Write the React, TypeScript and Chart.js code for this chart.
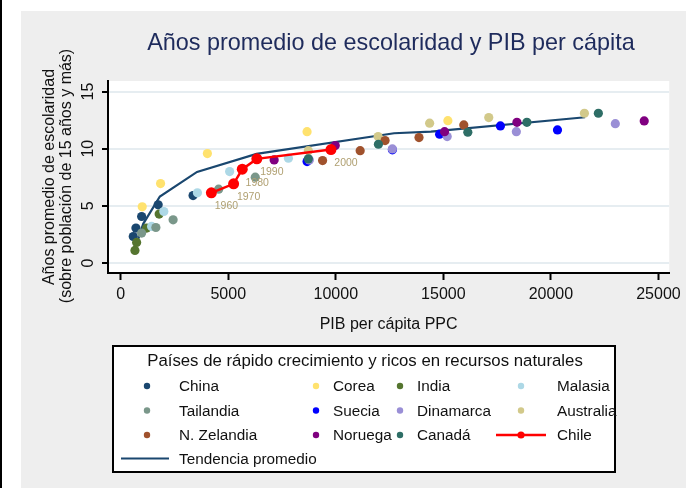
import React, { useEffect, useRef } from 'react';
import { Chart, registerables } from 'chart.js';

Chart.register(...registerables);

const FONT = "'Liberation Sans', Arial, Helvetica, sans-serif";

// Countries (legend order)
const countryNames = ['China', 'Corea', 'India', 'Malasia', 'Tailandia', 'Suecia', 'Dinamarca', 'Australia', 'N. Zelandia', 'Noruega', 'Canadá'];
const countryColors = ['#1a476f', '#ffe26e', '#55752f', '#add8e6', '#7a978a', '#0000ff', '#9a8fd6', '#d2c98a', '#a0522d', '#800080', '#2e6e66'];

const chinaX = [584, 709, 973, 1742, 3364];
const chinaY = [2.32, 3.06, 4.07, 5.09, 5.9];
const coreaX = [1001, 1853, 4031, 8664, 15210];
const coreaY = [4.92, 6.95, 9.57, 11.49, 12.45];
const indiaX = [663, 741, 1205, 1788];
const indiaY = [1.1, 1.8, 3.06, 4.28];
const malasiaX = [1436, 2006, 3567, 5064, 7797];
const malasiaY = [3.2, 4.51, 6.14, 8.0, 9.17];
const tailandiaX = [973, 1635, 2437, 4554, 6255];
const tailandiaY = [2.62, 3.11, 3.78, 6.46, 7.51];
const sueciaX = [8664, 12630, 14826, 17652, 20306];
const sueciaY = [8.87, 9.9, 11.27, 11.99, 11.64];
const dinamarcaX = [8770, 12630, 15178, 18393, 22994];
const dinamarcaY = [9.02, 9.98, 11.06, 11.49, 12.19];
const australiaX = [8724, 11967, 14362, 17110, 21557];
const australiaY = [9.83, 11.06, 12.23, 12.72, 13.1];
const nzelandiaX = [9386, 11133, 12291, 13867, 15951];
const nzelandiaY = [8.96, 9.83, 10.71, 10.97, 12.08];
const noruegaX = [7135, 9975, 15057, 18421, 24337];
const noruegaY = [9.02, 10.27, 11.49, 12.31, 12.43];
const canadaX = [8724, 11981, 16137, 18884, 22206];
const canadaY = [9.11, 10.39, 11.44, 12.31, 13.1];

const countryXs = [chinaX, coreaX, indiaX, malasiaX, tailandiaX, sueciaX, dinamarcaX, australiaX, nzelandiaX, noruegaX, canadaX];
const countryYs = [chinaY, coreaY, indiaY, malasiaY, tailandiaY, sueciaY, dinamarcaY, australiaY, nzelandiaY, noruegaY, canadaY];

const chileX = [4216, 5249, 5652, 6329, 9776];
const chileY = [6.14, 6.93, 8.21, 9.11, 9.92];
const chileYears = ['1960', '1970', '1980', '1990', '2000'];

const trendX = [695, 1047, 1821, 3549, 6315, 12708, 14423, 21590];
const trendY = [1.42, 3.43, 5.82, 7.97, 9.55, 11.35, 11.49, 12.75];

const xTicks = [0, 5000, 10000, 15000, 20000, 25000];
const yTicks = [0, 5, 10, 15];

const titleText = 'Años promedio de escolaridad y PIB per cápita';
const xTitle = 'PIB per cápita PPC';
const yTitle1 = 'Años promedio de escolaridad';
const yTitle2 = '(sobre población de 15 años y más)';
const legendTitle = 'Países de rápido crecimiento y ricos en recursos naturales';
const chileLabel = 'Chile';
const trendLabel = 'Tendencia promedio';

const decorPlugin = {
  id: 'decor',
  beforeDraw(chart: any) {
    const { ctx, chartArea: a } = chart;
    ctx.save();
    ctx.fillStyle = '#ffffff';
    ctx.fillRect(0, 0, 686, 488);
    ctx.fillStyle = '#000000';
    ctx.fillRect(0, 0, 2, 488);
    ctx.fillStyle = '#eeeeee';
    ctx.fillRect(21, 11, 665, 477);
    ctx.fillStyle = '#ffffff';
    ctx.fillRect(a.left, a.top, a.right - a.left, a.bottom - a.top);
    ctx.restore();
  },
  afterDraw(chart: any) {
    const { ctx, chartArea: a } = chart;
    const ys = chart.scales.y;
    ctx.save();
    // Title
    ctx.fillStyle = '#1e2b5c';
    ctx.font = `23.4px ${FONT}`;
    ctx.textAlign = 'center';
    ctx.textBaseline = 'middle';
    ctx.fillText(titleText, 391, 44);

    // X title
    ctx.fillStyle = '#111';
    ctx.font = `16px ${FONT}`;
    ctx.fillText(xTitle, (a.left + a.right) / 2, 325);

    // Y title (rotated)
    ctx.save();
    ctx.translate(50, 177);
    ctx.rotate(-Math.PI / 2);
    ctx.fillText(yTitle1, 0, 0);
    ctx.restore();
    ctx.save();
    ctx.translate(66.5, 176);
    ctx.rotate(-Math.PI / 2);
    ctx.fillText(yTitle2, 0, 0);
    ctx.restore();

    // Y tick labels (rotated)
    ys.ticks.forEach((t: any) => {
      const py = ys.getPixelForValue(t.value);
      ctx.save();
      ctx.translate(89, py);
      ctx.rotate(-Math.PI / 2);
      ctx.fillText(String(t.value), 0, 0);
      ctx.restore();
    });

    // Chile year labels
    const chileIdx = chart.data.datasets.findIndex((d: any) => d.label === chileLabel);
    const meta = chart.getDatasetMeta(chileIdx);
    ctx.fillStyle = '#b0a072';
    ctx.font = `10.5px ${FONT}`;
    meta.data.forEach((pt: any, i: number) => {
      ctx.fillText(chileYears[i], pt.x + 15, pt.y + 13.5);
    });

    // Legend box
    ctx.fillStyle = '#ffffff';
    ctx.fillRect(113, 346, 502, 126);
    ctx.strokeStyle = '#000';
    ctx.lineWidth = 2;
    ctx.strokeRect(113, 346, 502, 126);
    ctx.fillStyle = '#111';
    ctx.font = `16.8px ${FONT}`;
    ctx.textAlign = 'center';
    ctx.fillText(legendTitle, 365, 361);

    const markerX = [147, 316, 400, 521];
    const labelX = [179, 333, 417, 557];
    const rowY = [386, 410.5, 435, 458.5];
    ctx.font = `15.3px ${FONT}`;
    ctx.textAlign = 'left';
    const items: { label: string; color: string; kind: string }[] = countryNames.map((n, i) => ({ label: n, color: countryColors[i], kind: 'dot' }));
    items.push({ label: chileLabel, color: '#ff0000', kind: 'chile' });
    items.forEach((it, k) => {
      const r = Math.floor(k / 4);
      const c = k % 4;
      const y = rowY[r];
      if (it.kind === 'dot') {
        ctx.fillStyle = it.color;
        ctx.beginPath();
        ctx.arc(markerX[c], y, 3.2, 0, Math.PI * 2);
        ctx.fill();
      } else {
        ctx.strokeStyle = it.color;
        ctx.lineWidth = 2.5;
        ctx.beginPath();
        ctx.moveTo(496, y);
        ctx.lineTo(546, y);
        ctx.stroke();
        ctx.fillStyle = it.color;
        ctx.beginPath();
        ctx.arc(521, y, 3.6, 0, Math.PI * 2);
        ctx.fill();
      }
      ctx.fillStyle = '#111';
      ctx.fillText(it.label, labelX[c], y + 1);
    });
    ctx.strokeStyle = '#1a476f';
    ctx.lineWidth = 2.2;
    ctx.beginPath();
    ctx.moveTo(121, rowY[3]);
    ctx.lineTo(169, rowY[3]);
    ctx.stroke();
    ctx.fillStyle = '#111';
    ctx.fillText(trendLabel, 179, rowY[3] + 1);
    ctx.restore();
  },
};

export default function App() {
  const ref = useRef<HTMLCanvasElement | null>(null);
  useEffect(() => {
    if (!ref.current) return;
    const datasets: any[] = [];
    countryNames.forEach((name, i) => {
      datasets.push({
        label: name,
        data: countryXs[i].map((x, j) => ({ x, y: countryYs[i][j] })),
        backgroundColor: countryColors[i],
        borderColor: countryColors[i],
        pointRadius: 4.6,
        pointBorderWidth: 0,
        showLine: false,
        order: 100 - i,
      });
    });
    datasets.push({
      label: chileLabel,
      data: chileX.map((x, j) => ({ x, y: chileY[j] })),
      backgroundColor: '#ff0000',
      borderColor: '#ff0000',
      borderWidth: 2.5,
      pointRadius: 5.5,
      pointBorderWidth: 0,
      showLine: true,
      order: 0,
    });
    datasets.push({
      label: trendLabel,
      data: trendX.map((x, j) => ({ x, y: trendY[j] })),
      borderColor: '#1a476f',
      backgroundColor: '#1a476f',
      borderWidth: 2.2,
      pointRadius: 0,
      showLine: true,
      order: 200,
    });

    const chart = new Chart(ref.current, {
      type: 'scatter',
      data: { datasets },
      plugins: [decorPlugin],
      options: {
        animation: false,
        responsive: false,
        devicePixelRatio: 1,
        layout: { padding: { top: 81, right: 15, left: 0, bottom: 175 } },
        plugins: { legend: { display: false }, tooltip: { enabled: false }, title: { display: false } },
        scales: {
          x: {
            type: 'linear',
            min: -590,
            max: 25500,
            afterBuildTicks: (s: any) => {
              s.ticks = xTicks.map((v) => ({ value: v }));
            },
            afterFit: (s: any) => {
              s.height = 40;
            },
            grid: { drawOnChartArea: false, drawTicks: true, tickLength: 7, tickWidth: 2, tickColor: '#000' },
            border: { display: true, color: '#000', width: 2 },
            ticks: { color: '#111', font: { family: FONT, size: 16 }, padding: 5, maxRotation: 0, callback: (v: any) => String(v) },
          },
          y: {
            type: 'linear',
            min: -0.87,
            max: 15.92,
            afterBuildTicks: (s: any) => {
              s.ticks = yTicks.map((v) => ({ value: v }));
            },
            afterFit: (s: any) => {
              s.width = 108;
            },
            grid: { color: '#e6edf1', lineWidth: 2, drawTicks: true, tickLength: 6, tickWidth: 2, tickColor: '#000' },
            border: { display: true, color: '#000', width: 2 },
            ticks: { display: false },
          },
        },
      } as any,
    });
    return () => chart.destroy();
  }, []);
  return (
    <div style={{ position: 'absolute', left: 0, top: 0, width: 686, height: 488 }}>
      <canvas ref={ref} width={686} height={488} style={{ display: 'block', width: 686, height: 488 }} />
    </div>
  );
}
